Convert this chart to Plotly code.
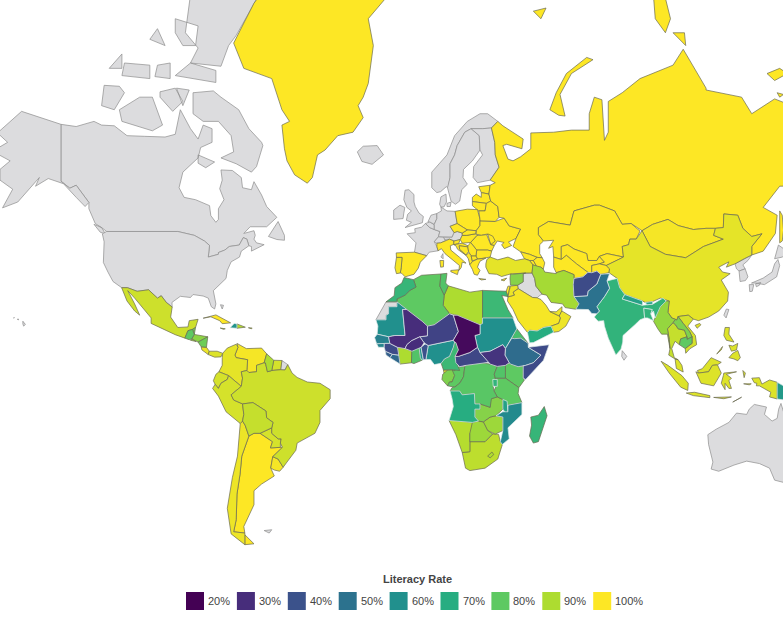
import math
import plotly.graph_objects as go
from plotly.colors import sample_colorscale

# ---------- legend data ----------
LEGEND_TITLE = "Literacy Rate"
LEGEND_LABELS = ["20%", "30%", "40%", "50%", "60%", "70%", "80%", "90%", "100%"]
LEGEND_COLORS = ["#440154", "#472d7b", "#3b528b", "#2c728e", "#21908d", "#27ad81", "#5ec962", "#addc30", "#fde725"]

# ---------- country outlines: rings of lon,lat,lon,lat ... ----------
CANADA = [[-141,69.6,-135,69.3,-128,70,-125,69.5,-120,69.4,-115,68,-108,67.9,-100,67.8,-96,68.2,-94,71.5,-90,69,-87,67.5,-85,69.5,-81.5,69,-81.5,67,-86,66.2,-87,64.5,-93,62,-94.5,59,-92.5,57,-88,56.5,-82.5,55.2,-82,52.9,-80,51.3,-79,52,-79,54.5,-76.8,56.5,-78.5,58.8,-77.5,60.5,-78,62.4,-73.5,62.3,-70,61,-69.5,59,-66,58.6,-65,60.2,-62,57.5,-60,55,-56,52.5,-60,50.2,-66.5,50.2,-69,48.5,-65,49.2,-64.5,48,-65,47,-64,46,-61,45.5,-66,43.7,-66,45,-67,45.2,-67.8,47,-69.2,47.4,-70.8,45.4,-74.7,45,-76.5,44,-79,43.3,-79,42.8,-83,42,-82.5,45.3,-84.5,46.5,-88.5,48,-95,49,-123,49,-125,50,-127.5,51,-130,54.5,-130,55.9,-135,59.5,-137.5,58.9,-141,60.3],
 [-128,50.8,-125,50,-123.5,48.4,-125.5,48.8],[-59.3,47.7,-55.5,51.5,-53,48,-53,46.7,-56,46.9],
 [-61.5,66.5,-64,63,-66,62,-72,63.5,-78,64.5,-73,65.5,-74,68,-79,70,-85,70,-89,71,-89,73.5,-81,73.7,-78,73,-71,71.5,-67,69,-62,67],
 [-117,70,-105,68.7,-101,69.5,-105,73,-110,73,-118,71.5],[-125,72,-120,71.5,-116,73.5,-118,74.2,-124,74.3],[-87,65,-80.5,63.8,-84,62.8,-87,63.6],
 [-90,76.5,-78,76.2,-75,78,-72,78.8,-63,81.5,-62,83,-75,83.2,-90,81.5,-92,79,-87,77.8],[-96,75.3,-80,74.6,-80,75.8,-90,76.5],[-96,80,-87,79.5,-88,78,-93,78,-96,79],
 [-117,75.3,-106,75,-106,76.3,-116,76.5],[-104,75.2,-98,75,-98,76.5,-103,76.3],[-102,73,-97,71.3,-93,72.5,-96,74,-102,73.6],[-95.5,74,-90.5,73.8,-93,72],[-122,76,-117,76,-117,77.3],[-106,78.5,-100,78,-103,79.3]]
USA = [[-123,49,-95,49,-88.5,48,-84.5,46.5,-82.5,45.3,-83,42,-79,42.8,-79,43.3,-76.5,44,-74.7,45,-70.8,45.4,-69.2,47.4,-67.8,47,-67,45.2,-70,43.7,-70.7,42,-74,40.6,-75.5,38,-76,35.5,-78,33.9,-81,31.5,-80,27,-80.5,25.2,-81.8,26,-83,29,-85,29.7,-89,30.2,-90,29.2,-94,29.6,-97.3,27.5,-97.2,25.9,-99.5,27.5,-101.5,29.8,-103,29,-106.5,31.8,-111,31.3,-114.8,32.5,-117.1,32.5,-120.5,34.5,-122.5,37.5,-124.3,40.4,-124,46.3,-124.7,48.4],
 [-141,69.6,-141,60.3,-137.5,58.9,-135,59.5,-130,55.9,-131.5,55,-135,57,-140,59.8,-146,60.8,-151,59.3,-149.5,61,-153,59,-158,56,-164,54.7,-160,58.7,-165,60.5,-165,62.5,-161,64,-168,65.6,-162,67,-166,68.4,-156.5,71.3],
 [-156,20.8,-155,19.6,-155.7,19,-156,19.8],[-159.7,22,-159.3,22.1,-159.4,21.9],[-158.2,21.5,-157.7,21.6,-157.7,21.3]]
GREENLAND = [[-73,78.2,-70,76.5,-69,76,-58,75,-54,71.5,-51,70,-54,69.5,-53,66,-52,64,-49,61.5,-44,59.9,-42,61,-40,65,-37,65.8,-32,68,-26,68.5,-22,70.5,-24,72,-22,73,-20,74.5,-19,76.5,-18,78,-20,80,-12,81.5,-28,83.5,-60,82,-65,81,-68,80]]
ICELAND = [[-24.3,65.5,-22,66.4,-16.5,66.5,-14,65,-18.5,63.4,-22.5,63.9]]
UK = [[-5.5,50,1.3,51.2,1.7,52.7,0,53.5,-1.5,55,-2,56,-2,57.6,-4,58.6,-5.5,58.5,-6,56.5,-4.8,54.8,-3,54,-4.5,53.2,-5,51.8,-3,51.3]]
IRELAND = [[-10,52,-6.3,52.2,-6,53.5,-5.6,54.8,-7.5,55.3,-10,54.2]]
FRANCE = [[2.5,51,4.2,50,6,49.5,8.2,49,7.6,47.6,6,46.3,7,45,7.5,43.8,4,43.4,3,42.4,-1.8,43.4,-1.2,46,-4.7,48.4,-1.5,48.7,-1.7,49.7,1,50.1],[8.6,42,9.4,43,9.5,41.5]]
SPAIN = [[-9,43.2,-1.8,43.4,3,42.4,0.5,40.5,-0.3,38.7,-2,36.8,-5.5,36,-6.8,37.1,-7.4,37.2,-7,39,-6.7,41.9,-8.9,41.9]]
PORTUGAL = [[-8.9,41.9,-6.7,41.9,-7,39,-7.4,37.2,-8.9,37,-9.5,38.8]]
BELGIUM = [[2.5,51,4.2,51.4,6,50.7,6,49.5,4.2,50]]
NETHERLANDS = [[3.5,51.4,4.7,53,7,53.4,7,52.2,6,50.8,4.2,51.4]]
GERMANY = [[7,53.4,8.8,54,8.6,54.9,11,54,14.2,53.9,15,51,12.2,50.3,13.8,48.7,13,47.5,9.6,47.5,7.6,47.6,8.2,49,6,49.5,6,50.7,6,50.8,7,52.2]]
DENMARK = [[8.1,55.5,8.6,57.1,10.6,57.7,10.8,56,9.8,54.9,8.6,54.9],[11,55.7,12.6,56,12.3,55,11,55]]
NORWAY = [[5,62,5,59,7,58,8.5,58.2,10.7,59.2,11.5,59,12.2,61,12.2,63.5,14,65,15,66.5,18,68.5,20.5,69,25,69,28.5,69.1,31,70,27,71,24,71,19,70,14,68,11,65]]
SWEDEN = [[11.2,59,12.6,56.2,14.3,55.5,16,56.2,16.8,58.6,19,59.7,17.3,61,17.5,62.5,21,64,24,65.8,23.7,68,20.5,69,18,68.5,15,66.5,14,65,12.2,63.5,12.2,61]]
FINLAND = [[24,65.8,25,65,21.5,63,21.3,61,23,60,25.5,60.3,28,60.5,31.5,62.9,30,65,29.8,67,28.5,69.1,25,69,20.5,69,23.7,68]]
ESTONIA = [[23.5,59.2,28,59.5,27.5,57.7,24.5,58]]
LATVIA = [[21,57,22.5,57.7,24.5,57,24.5,58,27.5,57.7,28.2,56.2,26.5,55.7,21,56.1]]
LITHUANIA = [[21,56.1,26.5,55.7,26,54,23.5,54,21,55.2]]
POLAND = [[14.2,53.9,19,54.4,23,54.3,24,52,24,50.5,22.5,49.2,19,49.4,15,51]]
BELARUS = [[23.5,54,26,54,26.5,55.7,28.2,56.2,31,55,31.5,52.5,30,51.5,24,51.6,24,52]]
UKRAINE = [[24,51.6,30,51.5,33.5,52.3,35.5,50.4,40,49.6,38.2,47.2,35.2,46.2,36.5,45.3,33.6,44.4,32.5,45.5,33.5,46.1,30.8,46.5,29.7,45.3,28.2,45.5,28,48,26.5,48.3,24.5,48,22.5,48.3,22.5,49.2,24,50.5]]
MOLDOVA = [[27,48.4,29,47.8,30,46.5,28.2,45.5]]
ROMANIA = [[22.8,48,24.5,48,26.6,48.2,28.2,45.5,29.6,45.2,28.6,43.7,27,44,22.7,44,20.3,46.1]]
BULGARIA = [[22.7,44,27,44,28.6,43.7,28,42,26.3,41.8,23,41.4,22.4,42.3]]
HUNGARY = [[16.2,46.9,17,48,18.8,48,22.2,48.4,22.8,48,20.3,46.1,17,45.9]]
SLOVAKIA = [[17,48,17,48.6,19,49.4,22.5,49.2,22.2,48.4,18.8,48]]
CZECHIA = [[12.2,50.3,15,51,17.5,50,19,49.4,17,48.6,15,49,13.8,48.7]]
AUSTRIA = [[9.6,47.5,13,47.5,13.8,48.7,15,49,17,48.6,17,48,16.2,46.9,14,46.5,12,47,10,46.9]]
SWITZERLAND = [[6,46.3,7.6,47.6,9.6,47.5,10.4,46.5,8.5,46,7,45.9]]
ITALY = [[7,45,7,45.9,8.5,46,10.4,46.5,12,47,13.7,46.5,13.7,45.6,12.3,45.2,12.5,44,16,41.9,18.5,40.2,17,40.5,16.6,38.9,15.7,38,15.9,39.5,12.2,41.8,10.2,43,8.8,44.4,7.5,43.8],[12.5,38,15.6,38.2,15.1,36.7,12.5,37.6],[8.2,41,9.7,41,9.6,39.1,8.5,39]]
SLOVENIA = [[13.7,46.5,16.2,46.9,15.6,45.8,13.7,45.5]]
CROATIA = [[13.7,45.5,15.6,45.8,17,45.9,19.3,45.2,19,44.9,15.8,45.2,16,44.2,18.5,42.5,15.2,44.2,14.5,45.2]]
BOSNIA = [[15.8,45.2,19.2,44.9,19.5,43.6,18.5,42.6,16,44.2]]
SERBIA = [[19.3,45.2,20.3,46.1,22.7,44,22.4,42.3,20.5,42.3,19.5,43.6,19.2,44.9]]
ALBANIA = [[18.5,42.5,19.5,43.2,20.5,42.5,21,40.6,20,39.7,19.4,41.5]]
MACEDONIA = [[20.5,42.3,22.4,42.3,23,41.4,21,40.9]]
GREECE = [[21,40.7,23,41.4,26.3,41.7,24,40.8,23.5,40,23,39,24,38,23,36.5,21.7,36.8,21,38.3,20,39.7],[23.5,35.5,26.3,35.2,24.5,35]]
CYPRUS = [[32.3,35,34.5,35.6,33.5,34.7]]
TURKEY = [[26.3,40,26.7,41.3,28,42,31,41.2,35,42,38,41,41.5,41.5,43.5,41,44.8,39.7,44.5,37.2,42,37.2,36.7,36.8,36,36.9,32.5,36.1,30.6,36.8,27.5,37,26.3,39]]
RUSSIA = [[31,70,33,69.4,41,67.5,40.5,66,34.5,66.7,33,66.5,35,64.3,37,64,40,64.7,44,66,44,68.4,53,68.5,60,68.8,67,68.8,67,71,69,73,72,72.7,72.7,69,73,67.3,74.5,68.5,74.5,72.5,80,73.5,87,75,100,76.3,104,77.7,113,74,113,73.8,127,73,131,71,140,72.8,150,71.6,160,69.7,170,70,180,69,180,65,177,62.5,170,60,163,60,163,58,162,55,156.5,51,156,57,163.5,61.6,155,59.5,142,59.3,135.5,54.8,141,53,140.3,48.5,135.5,43.7,131,42.6,131,45,135,48.4,131,47.7,127.5,49.8,125.5,53,120,53.3,119.8,50,116.7,49.8,113,49.8,108,49.5,102,50.5,98,52,92,50.8,87.8,49.2,83.5,51,80,50.8,77,54,71,55.3,69,55.3,61,54,59.5,50.6,51,51.5,47,50,47,48.2,49,46.5,47.5,45.5,47.5,43,48.5,41.8,46.5,41.9,43.5,42.8,40,43.5,37,45,38.2,47.2,40,49.6,35.5,50.4,33.5,52.3,31.5,52.5,31,55,28.2,56.2,27.5,57.7,28,59.5,30,60,28,60.5,31.5,62.9,30,65,29.8,67,28.5,69.1],
 [51.5,71.5,55,70.8,57.5,70.7,55.5,73.3,60,75.5,68.5,76.8,66,77,58,75.5,54,73.5],[93,80,97,79,99,80,97,81.3,92,82],[100,79,105,78,104.5,79],[45,80.5,50,80.7,48,80],[142,54,143,53,143.5,49.3,143,46.5,142,46,142,50],[137,75.5,142,76,145,75.5,140,74.8],[141,73.5,143.5,73.3,142,73]]
KAZAKHSTAN = [[47,50,51,51.5,59.5,50.6,61,54,69,55.3,71,55.3,77,54,80,50.8,83.5,51,87,49.1,85.5,47,83,47,82.5,45.5,80,45,80.5,42,74,43,71,42.2,70,41,66.5,41,66,43,61,44.3,58.5,45.5,56,45,56,41.3,53,42,52.7,45,51,44.5,53,46.7,49,46.5,47,48.2]]
UZBEKISTAN = [[56,45,58.5,45.5,61,44.3,66,43,66.5,41,70,41,71,42.2,73,40.5,71,40,68,39.5,68,37.3,66.5,37.4,62,40,58,42.5,56,41.3]]
TURKMENISTAN = [[53,42,56,41.3,58,42.5,62,40,66.5,37.4,64.5,36,61,35.5,61,36.7,57,38,54,37.3,53,39]]
KYRGYZSTAN = [[71,42.2,74,43,80.5,42,76,40.3,73.7,39.5,71,40,73,40.5]]
TAJIKISTAN = [[68,39.5,71,40,73.7,39.5,75,38.5,74.8,37.3,71.5,36.8,70,37.8,68,37.3]]
MONGOLIA = [[87.8,49.2,92,50.8,98,52,102,50.5,108,49.5,113,49.8,116.7,49.8,116,48,119.8,47,112,45,105,41.8,97,42.8,91,45]]
CHINA = [[73.7,39.5,76,40.3,80.5,42,80,45,82.5,45.5,83,47,85.5,47,87.8,49.2,91,45,97,42.8,105,41.8,112,45,119.8,47,116,48,116.7,49.8,119.8,50,120,53.3,125.5,53,127.5,49.8,131,47.7,135,48.4,131,45,131,42.6,128,41.5,124.4,40,121,39,122,40.6,118,39,119.5,37.5,122.5,37,119,35,121.8,31,121.5,28,118,24.5,114,22.3,110,21,108,21.6,106,23,102,22.5,101.5,21.2,99.5,22,98,24,98.5,28,95,29,92,27.8,89,27.5,88,28,81,30.2,79,32.5,78,35.5,75,37,74.8,37.3,75,38.5],[108.7,19.3,110.5,20,111,19.5,109.5,18.2]]
TAIWAN = [[120,23,121,25.2,122,25,120.9,22]]
NORTH_KOREA = [[124.4,40,128,41.5,131,42.6,129.5,41,127.5,39.7,128.4,38.5,126,37.8,125,38.5]]
SOUTH_KOREA = [[126,37.8,128.4,38.5,129.5,36,128.5,34.8,126.4,34.5]]
JAPAN = [[130.9,34,135.5,35.6,139,37.5,140,40,141.3,41.3,142,39.5,140.8,36,139,35,136,33.5,132.5,34],[140,41.5,141.5,45.4,145.3,43.5,143,42],[130,33.5,131.8,33.5,131.2,31.3,130.2,31.2],[132.5,33.8,134.5,34.2,134,33.3,132.8,32.8]]
INDIA = [[74,34.7,78,35.5,79,32.5,81,30.2,80,28.7,88,26.5,89.8,26.7,92,26.9,96,29,97.3,28,95,26,94,24,93,22,92.3,24.5,91.2,23.5,91.8,25,88.5,25.5,88.8,22,87,21.3,85,19.5,80.3,15.5,80.2,13,79.5,10.3,77.5,8,76,11,74.5,14.5,73,19,72.7,21,70.5,20.8,69,22.3,70,23.5,71,24.5,70,26,73,29.5,75,32.3]]
PAKISTAN = [[74,34.7,75,32.3,73,29.5,70,26,71,24.5,70,23.5,68,23.6,66.7,25,61.7,25.1,63,27,61,29.5,66.3,29.8,66.5,31.3,70,33.7,71.5,36.8,75,37]]
AFGHANISTAN = [[61,35.5,64.5,36,66.5,37.4,68,37.3,70,37.8,71.5,36.8,70,33.7,66.5,31.3,66.3,29.8,61,29.5,60.7,33.5]]
NEPAL = [[80,28.7,81,30.2,88,28,88,26.5]]
BHUTAN = [[89,27.5,92,27.8,92,26.9,89.8,26.7]]
BANGLADESH = [[88.5,25.5,91.8,25,91.2,23.5,92.3,21,90,22,88.8,22]]
SRI_LANKA = [[80,9.7,81.8,7.5,80.7,6,79.8,7.5]]
IRAN = [[44.8,39.7,48,39,48.9,38.4,49.5,37.5,54,37,54,37.3,57,38,61,36.7,61,35.5,60.7,33.5,61,29.5,63,27,61.7,25.1,57.5,25.7,56.5,27,52,27.5,50.2,30,48.5,30.3,46,33,45.5,35.5,44.5,37.2]]
IRAQ = [[44.5,37.2,45.5,35.5,46,33,48.5,30.3,47.7,30,46.5,29.1,44.7,29.2,39,32.2,38.8,33.3,41,34.4,41,37]]
SYRIA = [[36,36.9,36.7,36.8,42,37.2,41,37,41,34.4,38.8,33.3,36,33.3,35.8,35.5]]
JORDAN = [[36,33,38.8,33.3,39,32.2,37,31,37.5,30,35,29.4,35.5,31.5]]
ISRAEL = [[34.3,31.3,35,33,35.8,33,35.5,31.5,35,29.5]]
SAUDI_ARABIA = [[35,29.4,37.5,30,37,31,39,32.2,44.7,29.2,46.5,29.1,48,28.5,50,26.5,51.5,24.3,55.2,22.7,55.7,22,55,20,52,19,49,18.5,46.5,17.2,43.5,17.5,42.7,16.6,39,21,37,25,34.8,28]]
UAE = [[51.5,24.3,54,24.2,56.3,26,56.2,24.5,55.2,22.7]]
OMAN = [[55.2,22.7,56.2,24.5,56.8,24.2,59.8,22.5,57.8,19,55,17,53,16.7,52,19,55,20,55.7,22]]
YEMEN = [[42.7,16.6,43.5,17.5,46.5,17.2,49,18.5,52,19,53,16.7,45,12.8,43.5,12.7]]
GEORGIA = [[40,43.5,43.5,42.8,46.5,41.9,45,41,43.5,41,41.5,41.5]]
ARMENIA = [[43.5,41,45,41,46.5,39,44.8,39.7]]
AZERBAIJAN = [[45,41,46.5,41.9,48.5,41.8,49.5,40.3,48.9,38.4,48,39,46.5,39]]
MYANMAR = [[92.3,20.8,93,22,94,24,95,26,97.3,28,98.5,28,98,24,99.5,22,101,21.5,100,20.3,97.8,18,98.5,14,98.8,10.5,97.8,16,95.5,16,94,18]]
THAILAND = [[100,20.3,101,19.5,102,18,104.5,17.5,105.5,15,103,14.2,102.5,12,100.8,13.3,99.5,10.5,100.5,7,102,6.2,100.8,6.5,98.3,8,98.8,10.5,98.5,14,97.8,18]]
LAOS = [[101.5,21.2,102,22.5,104,20,106.5,17,107.5,15,105.5,14,105.5,15,104.5,17.5,102,18,101,19.5,100,20.3,101,21.5]]
VIETNAM = [[102,22.5,106,23,108,21.6,105.8,19,108.8,15.5,109.3,12,106.7,10.5,105,8.7,104.8,10.5,106,11.5,107.5,12.5,107.5,15,106.5,17,104,20]]
CAMBODIA = [[102.5,12,103,14.2,105.5,15,105.5,14,107.5,15,107.5,12.5,106,11.5,104.8,10.5]]
MALAYSIA = [[100.8,6.5,102,6.2,103.5,4,104,1.4,101.3,2.8],[109.6,2,111.5,2.7,115,7,119,5.2,117.5,4.2,115.5,4,114,1.5,110,1]]
INDONESIA = [[109,1.5,110,1,114,1.5,115.5,4,117.5,4.2,119,1,116,-4,111,-3],[95.3,5.6,98,4,103.5,0,106,-3,105.8,-5.8,103,-4.5,98.5,1],[105.2,-6.8,108.5,-6.5,114.5,-7.8,114.5,-8.6,108,-7.8],[120,1,125,1.5,121,0.5,123,-1,122,-2,123,-5,122,-5,120.5,-3,120.5,-5.5,119.5,-4,119,-3,119.8,0],[116,-8.5,123,-8.3,120,-9],[123.5,-10.3,127,-8.4,125,-9.8],[127.5,2,128.5,1,128,-0.8],[131,-1,134,-0.8,135,-3.3,138,-1.7,141,-2.6,141,-9.1,138,-8.3,138.5,-6.5,134,-4,132.8,-4,133,-3,132,-2.8],[127.8,-3.2,130.8,-3.2,130,-3.6,128,-3.5]]
PAPUA_NEW_GUINEA = [[141,-2.6,147,-6,147,-10,141,-9.1]]
PHILIPPINES = [[120.5,18.5,122.2,18.5,122,16,124,13,121,13.7,120,15.5],[122,7,123.5,8.7,125.5,9.8,126.5,7,125.5,5.8,124,6.5],[122,11.8,123.5,11.5,125.5,12.5,125,10,123,9.5],[117.2,8.4,119.5,11.3,119,10]]
AUSTRALIA = [[113.7,-22.5,114,-26,115.7,-32,115,-34.3,118,-35,124,-33,129,-31.7,134,-32.5,138,-34,140,-37.8,146,-39,150,-37.5,153,-31,153.5,-27,149,-21,146,-19,145.3,-15,143.5,-14,142.5,-10.8,141.6,-13,141,-16.5,139,-17.5,136,-15,136.8,-12.2,132,-11.2,130,-13,129,-15,125,-14.5,122,-18,117,-20.5]]
MOROCCO = [[-5.9,35.8,-2.2,35.1,-1.2,32.7,-3.6,31.6,-5.5,30,-8.7,28.7,-8.7,27.7,-13,27.7,-9.8,29.8,-9.5,32.5,-6.8,34]]
WESTERN_SAHARA = [[-8.7,27.7,-13,27.7,-17,21.3,-13,21.3,-13,23,-12,23.5,-12,26,-8.7,26]]
ALGERIA = [[-2.2,35.1,1,36.5,8.6,36.9,8.2,33,9.9,30,9.5,26.5,12,23.5,6,19.5,3.3,19,1.2,20.8,-4.8,25,-8.7,27.7,-8.7,28.7,-5.5,30,-3.6,31.6,-1.2,32.7]]
TUNISIA = [[8.6,36.9,11,37.1,10.5,34,11.5,33.1,9.9,30,8.2,33]]
LIBYA = [[11.5,33.1,15,32.3,20,31,25,31.6,25,20,24,19.5,15,23,12,23.5,9.5,26.5,9.9,30]]
EGYPT = [[25,31.6,32,31.2,34.3,31.3,35,29.5,32.6,29.9,35,25,37,22,25,22]]
SUDAN = [[25,22,37,22,38.5,18,36.5,14.5,34,10.5,33,12,28,9.5,24,9,23,11,22.5,13,22,15.5,24,16,24,19.5,25,20]]
SOUTH_SUDAN = [[24,9,28,9.5,33,12,34,10.5,33.8,8,35.5,5,34,4,30.8,3.6,28,4.5,24.5,8.5]]
ERITREA = [[36.5,14.5,38.5,18,43,12.5,40,14.5,37.5,14.3]]
ETHIOPIA = [[36.5,14.5,37.5,14.3,40,14.5,43,12.5,43,11,48,8,45,5,42,4,39,3.5,36,4.5,35.5,5,33.8,8,34,10.5]]
SOMALIA = [[43,11,51.2,12,49,6,42,-1.5,41,-1,41,3.8,42,4,45,5,48,8]]
KENYA = [[34,4,35.5,5,36,4.5,39,3.5,41,3.8,41,-1,41.5,-1.7,39.3,-4.7,34,-1,34,1.2]]
UGANDA = [[30.8,3.6,34,4,34,1.2,34,-1,30,-1,29.6,0.6]]
TANZANIA = [[30,-1,34,-1,39.3,-4.7,39,-7,40.5,-10.5,35,-11.5,33,-9.3,30.8,-8.3,29.5,-6,30.8,-3]]
RWANDA_BURUNDI = [[29,-1.5,30.8,-1.5,30.8,-4.2,29.2,-4.2]]
DR_CONGO = [[12.2,-6,13,-4.7,14,-4.5,16,-3,17.5,-0.5,18,3.5,18.5,4,22,4.5,24.5,5,28,4.5,30.8,3.6,29.6,0.6,30,-1,29.2,-4.2,29.5,-6,30.8,-8.3,28.5,-9,28,-12.3,24,-11,22,-11,21.8,-7,17,-7.5,16,-6]]
CONGO = [[11.2,-4,14,-4.5,16,-3,17.5,-0.5,18,3.5,16,3.5,14,2,13,2.3,14,0,13,-2.5,12,-2.5]]
GABON = [[9.3,0.5,9.8,1,11.3,2.2,13,2.3,14,2,14,0,13,-2.5,12,-2.5,11.2,-4,9,-1.5]]
EQ_GUINEA = [[9.6,2.2,11.3,2.2,11.3,1,9.8,1]]
CAMEROON = [[9.6,2.2,11.3,2.2,13,2.3,16,2,15,4.5,14.2,7.5,15.5,10,14.5,12.8,14,13,13.5,11,12,7.5,10,6.5,8.7,4.8]]
CAR = [[14.5,5,15,4.5,16,3.5,18.5,4,22,4.5,24.5,5,27.5,5.2,24.5,8.5,24,9,23,11,20,9,15.5,7.5,14.2,7.5]]
CHAD = [[14,13,14.5,12.8,15.5,10,14.2,7.5,15.5,7.5,20,9,23,11,22.5,13,22,15.5,24,16,24,19.5,15,23,13.5,23,15.5,17,13.5,13.7]]
NIGER = [[3.3,19,6,19.5,12,23.5,13.5,23,15.5,17,13.5,13.7,9,12.8,3.6,11.7,2,12.7,0.3,15,3.3,15.4]]
MALI = [[-12,15,-11.5,12.5,-8.5,11,-5.5,10.5,-4.8,12,-3,13.5,0.3,15,3.3,15.4,3.3,19,1.2,20.8,-4.8,25,-6.5,25,-5.5,15.5,-9.5,15.5]]
MAURITANIA = [[-17,21.3,-13,21.3,-13,23,-12,23.5,-12,26,-8.7,26,-8.7,27.7,-4.8,25,-6.5,25,-5.5,15.5,-9.5,15.5,-12,15,-16.5,16,-16.2,19]]
SENEGAL = [[-17.5,14.7,-16.5,16,-12,15,-11.5,12.5,-16.7,12.4]]
GUINEA_BISSAU = [[-16.7,12.4,-13.7,12.5,-13.7,11,-16,11]]
GUINEA = [[-13.7,12.5,-11.5,12.5,-8.5,11,-8,8,-10.5,8.3,-13.3,9.5,-13.7,11]]
SIERRA_LEONE = [[-13.3,9.5,-10.5,8.3,-11.5,7,-13,8]]
LIBERIA = [[-11.5,7,-10.5,8.3,-8,8,-7.5,4.5]]
IVORY_COAST = [[-8,8,-8.5,11,-5.5,10.5,-2.8,9.5,-3,5,-7.5,4.5]]
BURKINA_FASO = [[-5.5,10.5,-2.8,9.5,0.8,11,2,12.7,0.3,15,-3,13.5,-4.8,12]]
GHANA = [[-3,5,-2.8,9.5,-2.8,11,0,11,0.5,7,1.2,6,-2,4.7]]
TOGO = [[0,11,0.8,11,1.7,6.2,1.2,6,0.5,7]]
BENIN = [[0.8,11,2.4,12.3,3.6,11.7,2.7,6.3,1.7,6.2]]
NIGERIA = [[2.7,6.3,3.6,11.7,9,12.8,13.5,13.7,14,13,13.5,11,12,7.5,10,6.5,8.7,4.8,6,4.3,4.5,6.3]]
ANGOLA = [[12.2,-6,16,-6,17,-7.5,21.8,-7,22,-11,24,-11,24,-13,22,-13,22,-16,23.4,-17.5,21,-18,13.5,-17.3,11.8,-17.3,13.5,-12,13,-9]]
ZAMBIA = [[22,-13,24,-13,24,-11,28,-12.3,28,-9,30.8,-8.3,33,-9.3,33,-13,30.3,-15.5,28,-16,25.3,-17.8,23.4,-17.5,22,-16]]
MALAWI = [[33,-9.3,34.7,-10,35,-14,35.7,-16,34.5,-15,33,-13]]
MOZAMBIQUE = [[35,-11.5,40.5,-10.5,40.5,-15,35,-20,35.5,-24,32.8,-26,32,-25,33,-21,33,-16,30.3,-15.5,33,-14,35,-14]]
ZIMBABWE = [[25.3,-17.8,28,-16,30.3,-15.5,33,-16,33,-21,30,-22.3,27,-21]]
BOTSWANA = [[20,-22,21,-18,23.4,-17.5,25.3,-17.8,27,-21,29,-22.2,26,-25,23,-25,20,-25]]
NAMIBIA = [[11.8,-17.3,13.5,-17.3,21,-18,25,-17.8,23.4,-18,21,-18.3,21,-22,20,-22,20,-28.5,17,-28.8,14.5,-22.5]]
SOUTH_AFRICA = [[17,-28.8,20,-28.5,20,-25,23,-25,26,-25,29,-22.2,31.3,-22.4,32,-25,32.8,-26,31,-31,26,-34,20,-34.8,18.3,-34]]
LESOTHO = [[27,-30,28.7,-28.6,29.4,-29.5,28,-30.6]]
MADAGASCAR = [[44,-16,47,-15.3,49.3,-12,50.4,-15.5,47,-25,45,-25.5,43.5,-23,44.3,-19]]
MEXICO = [[-117.1,32.5,-114.8,32.5,-111,31.3,-106.5,31.8,-103,29,-101.5,29.8,-99.5,27.5,-97.2,25.9,-97.8,22.3,-95,18.5,-91,18.7,-90.5,21,-87,21.5,-88,18.5,-89.2,17.8,-91,17.3,-92.2,14.5,-96,15.8,-105.5,20,-105.5,22,-112,29,-114.7,31.5,-112,27,-110,23,-112,24.5,-115,28]]
GUATEMALA = [[-92.2,14.5,-91,17.3,-89.2,17.8,-88.5,15.9,-89.5,14.2,-90.5,13.9]]
BELIZE = [[-89.2,17.8,-88,18.5,-88.5,15.9]]
HONDURAS = [[-88.5,15.9,-83.2,15,-87,13,-89.5,14.2]]
EL_SALVADOR = [[-90,13.7,-87.8,13.2,-89.3,14.3]]
NICARAGUA = [[-87,13,-83.2,15,-83.7,11,-85.8,11.2]]
COSTA_RICA = [[-85.8,11.2,-83.7,11,-82.6,9.5,-83,8.2,-85.5,10]]
PANAMA = [[-83,8.2,-82.6,9.5,-79.5,9.5,-77.3,8.7,-78,7.3,-80.5,7.2]]
CUBA = [[-85,21.9,-80,23.1,-74.2,20.2,-77.5,19.9,-78.5,21,-82,22.4]]
HAITI = [[-74.4,18.4,-72.8,20,-71.7,19.8,-71.7,18.2]]
DOMINICAN_REP = [[-71.7,19.8,-68.4,18.6,-71.7,18.2]]
JAMAICA = [[-78.3,18.3,-76.3,18,-77,17.8]]
PUERTO_RICO = [[-67.2,18.4,-65.7,18.3,-66,18]]
BAHAMAS = [[-78.2,26.7,-77,26.5,-77.5,25.2]]
COLOMBIA = [[-77.3,8.7,-75.5,10.7,-72,12.2,-71.3,11,-72.5,8,-72,7,-67.5,6.2,-67.8,2,-70,1.5,-69.5,-1,-70,-4.2,-72,-2.5,-75,0,-78.8,1.5,-77.5,4,-77.5,7]]
VENEZUELA = [[-71.3,11,-71.7,12.5,-68,10.5,-62,10.7,-60,8.5,-61,5,-64,4,-64,1.5,-67,1.2,-67.8,2,-67.5,6.2,-72,7,-72.5,8]]
GUYANA = [[-60,8.5,-57.2,6,-58,2,-59.7,1.5,-60.5,5,-61,5]]
SURINAME = [[-57.2,6,-54,5.9,-54.5,2.3,-58,2]]
FRENCH_GUIANA = [[-54,5.9,-51.7,4.3,-52.8,2.2,-54.5,2.3]]
BRAZIL = [[-51.7,4.3,-50,1,-48,-0.7,-44,-2.5,-39,-3,-35,-5.5,-35,-9,-39,-13.5,-39,-18,-41,-22,-48,-25.5,-48.5,-28,-52,-32,-53.5,-33.7,-55.5,-31,-57.6,-30.2,-53.8,-27,-54.6,-25.5,-54.3,-24,-55.5,-24,-58,-22,-58,-20,-57.5,-18,-60,-16.3,-60.3,-13.7,-65.4,-10.5,-69.5,-11,-73,-9.5,-74,-7.5,-70,-4.2,-69.5,-1,-70,1.5,-67.8,2,-67,1.2,-64,1.5,-64,4,-61,5,-60.5,5,-59.7,1.5,-58,2,-54.5,2.3,-52.8,2.2]]
ECUADOR = [[-78.8,1.5,-75,0,-75.5,-1.5,-78,-3,-79,-5,-80.3,-3.4,-81,-2,-80,0.5]]
PERU = [[-75,0,-72,-2.5,-70,-4.2,-74,-7.5,-73,-9.5,-69.5,-11,-69,-15,-69.5,-17.5,-70.4,-18.4,-76,-14,-79,-8,-81.3,-5,-80.3,-3.4,-79,-5,-78,-3,-75.5,-1.5]]
BOLIVIA = [[-69.5,-11,-65.4,-10.5,-60.3,-13.7,-60,-16.3,-57.5,-18,-58,-20,-62.6,-22,-65,-22,-67,-23,-68.5,-19,-69.5,-17.5,-69,-15]]
PARAGUAY = [[-58,-20,-58,-22,-55.5,-24,-54.3,-24,-54.6,-25.5,-54.6,-27,-58.5,-27.2,-57.7,-25,-62.6,-22]]
URUGUAY = [[-58.4,-34,-57.6,-30.2,-55.5,-31,-53.5,-33.7,-54.9,-35,-57,-34.6]]
CHILE = [[-70.4,-18.4,-69.5,-17.5,-68.5,-19,-67,-23,-69.8,-30,-70.5,-36,-71.7,-42,-72,-49,-73,-52,-68.6,-52.3,-68.6,-55,-74,-52.5,-75.5,-46,-73.5,-37,-71.5,-30,-70.3,-20]]
ARGENTINA = [[-65,-22,-62.6,-22,-57.7,-25,-58.5,-27.2,-54.6,-27,-53.8,-27,-57.6,-30.2,-58.4,-34,-57,-36.5,-62,-39,-65,-41,-65,-45,-69,-50.7,-68.6,-52.3,-73,-52,-72,-49,-71.7,-42,-70.5,-36,-69.8,-30,-67,-23],[-68.6,-52.7,-65,-54.8,-68.6,-55]]
FALKLANDS = [[-61,-51.7,-58,-51.5,-59,-52.3]]

# ---------- countries and their literacy rate (%); None = no data ----------
COUNTRY_NAMES = ["Canada","United States","Greenland","Iceland","United Kingdom","Ireland","France","Spain","Portugal","Belgium","Netherlands","Germany","Denmark","Norway","Sweden","Finland","Estonia","Latvia","Lithuania","Poland","Belarus","Ukraine","Moldova","Romania","Bulgaria","Hungary","Slovakia","Czechia","Austria","Switzerland","Italy","Slovenia","Croatia","Bosnia","Serbia","Albania","Macedonia","Greece","Cyprus","Turkey","Russia","Kazakhstan","Uzbekistan","Turkmenistan","Kyrgyzstan","Tajikistan","Mongolia","China","Taiwan","North Korea","South Korea","Japan","India","Pakistan","Afghanistan","Nepal","Bhutan","Bangladesh","Sri Lanka","Iran","Iraq","Syria","Jordan","Israel","Saudi Arabia","UAE","Oman","Yemen","Georgia","Armenia","Azerbaijan","Myanmar","Thailand","Laos","Vietnam","Cambodia","Malaysia","Indonesia","Papua New Guinea","Philippines","Australia","Morocco","Western Sahara","Algeria","Tunisia","Libya","Egypt","Sudan","South Sudan","Eritrea","Ethiopia","Somalia","Kenya","Uganda","Tanzania","Rwanda/Burundi","DR Congo","Congo","Gabon","Equatorial Guinea","Cameroon","Central African Rep.","Chad","Niger","Mali","Mauritania","Senegal","Guinea-Bissau","Guinea","Sierra Leone","Liberia","Ivory Coast","Burkina Faso","Ghana","Togo","Benin","Nigeria","Angola","Zambia","Malawi","Mozambique","Zimbabwe","Botswana","Namibia","South Africa","Lesotho","Madagascar","Mexico","Guatemala","Belize","Honduras","El Salvador","Nicaragua","Costa Rica","Panama","Cuba","Haiti","Dominican Rep.","Jamaica","Puerto Rico","Bahamas","Colombia","Venezuela","Guyana","Suriname","French Guiana","Brazil","Ecuador","Peru","Bolivia","Paraguay","Uruguay","Chile","Argentina","Falklands"]
OUTLINES = [CANADA,USA,GREENLAND,ICELAND,UK,IRELAND,FRANCE,SPAIN,PORTUGAL,BELGIUM,NETHERLANDS,GERMANY,DENMARK,NORWAY,SWEDEN,FINLAND,ESTONIA,LATVIA,LITHUANIA,POLAND,BELARUS,UKRAINE,MOLDOVA,ROMANIA,BULGARIA,HUNGARY,SLOVAKIA,CZECHIA,AUSTRIA,SWITZERLAND,ITALY,SLOVENIA,CROATIA,BOSNIA,SERBIA,ALBANIA,MACEDONIA,GREECE,CYPRUS,TURKEY,RUSSIA,KAZAKHSTAN,UZBEKISTAN,TURKMENISTAN,KYRGYZSTAN,TAJIKISTAN,MONGOLIA,CHINA,TAIWAN,NORTH_KOREA,SOUTH_KOREA,JAPAN,INDIA,PAKISTAN,AFGHANISTAN,NEPAL,BHUTAN,BANGLADESH,SRI_LANKA,IRAN,IRAQ,SYRIA,JORDAN,ISRAEL,SAUDI_ARABIA,UAE,OMAN,YEMEN,GEORGIA,ARMENIA,AZERBAIJAN,MYANMAR,THAILAND,LAOS,VIETNAM,CAMBODIA,MALAYSIA,INDONESIA,PAPUA_NEW_GUINEA,PHILIPPINES,AUSTRALIA,MOROCCO,WESTERN_SAHARA,ALGERIA,TUNISIA,LIBYA,EGYPT,SUDAN,SOUTH_SUDAN,ERITREA,ETHIOPIA,SOMALIA,KENYA,UGANDA,TANZANIA,RWANDA_BURUNDI,DR_CONGO,CONGO,GABON,EQ_GUINEA,CAMEROON,CAR,CHAD,NIGER,MALI,MAURITANIA,SENEGAL,GUINEA_BISSAU,GUINEA,SIERRA_LEONE,LIBERIA,IVORY_COAST,BURKINA_FASO,GHANA,TOGO,BENIN,NIGERIA,ANGOLA,ZAMBIA,MALAWI,MOZAMBIQUE,ZIMBABWE,BOTSWANA,NAMIBIA,SOUTH_AFRICA,LESOTHO,MADAGASCAR,MEXICO,GUATEMALA,BELIZE,HONDURAS,EL_SALVADOR,NICARAGUA,COSTA_RICA,PANAMA,CUBA,HAITI,DOMINICAN_REP,JAMAICA,PUERTO_RICO,BAHAMAS,COLOMBIA,VENEZUELA,GUYANA,SURINAME,FRENCH_GUIANA,BRAZIL,ECUADOR,PERU,BOLIVIA,PARAGUAY,URUGUAY,CHILE,ARGENTINA,FALKLANDS]
LITERACY = [None,None,100,None,None,None,None,100,99,None,None,None,None,None,None,None,100,100,100,100,100,100,100,100,100,100,100,100,None,None,100,100,100,100,100,100,100,100,100,97,100,100,100,100,100,100,99,97,None,None,None,None,72,50,38,66,66,72,None,89,None,85,98,100,99,98,98,70,100,100,100,87,93,84,95,80,96,96,63,96,None,73,None,80,78,90,74,60,32,76,48,38,80,78,80,72,79,80,84,97,74,37,22,36,30,60,55,56,38,44,47,90,30,78,62,40,60,70,85,66,58,88,88,91,92,90,73,94,80,82,86,88,82,98,96,100,61,91,88,93,None,97,99,90,95,None,94,95,95,93,95,99,98,100,None]

COLORSCALE = [[i / 8, c] for i, c in enumerate(LEGEND_COLORS)]
NO_DATA = "#dcdcde"

def merc(lat):
    return math.log(math.tan(math.pi / 4 + math.radians(lat) / 2))

def ring_xy(rings):
    xs, ys = [], []
    for ring in rings:
        lons, lats = ring[0::2], ring[1::2]
        xs += lons + [lons[0], None]
        ys += [merc(v) for v in lats] + [merc(lats[0]), None]
    return xs, ys

rows = sorted(zip(COUNTRY_NAMES, OUTLINES, LITERACY), key=lambda r: (-1 if r[2] is None else 100 - r[2]))

fig = go.Figure()
for name, rings, value in rows:
    xs, ys = ring_xy(rings)
    if value is None:
        fill, edge = NO_DATA, "#8d8d8d"
    else:
        fill = sample_colorscale(COLORSCALE, (value - 20) / 80)[0]
        edge = "#dfe9ea" if value <= 72 else "#6a6a52"
    fig.add_trace(go.Scatter(x=xs, y=ys, mode="lines", fill="toself", fillcolor=fill,
                             line=dict(color=edge, width=0.7), name=name, showlegend=False,
                             hoveron="fills", hoverinfo="text",
                             text=f"{name}: {value}%" if value is not None else f"{name}: no data"))

shapes, annotations = [], []
W, H = 783, 633
annotations.append(dict(x=417.5 / W, y=1 - 579 / H, xref="paper", yref="paper", text=f"<b>{LEGEND_TITLE}</b>",
                        showarrow=False, xanchor="center", yanchor="middle",
                        font=dict(family="Liberation Sans", size=11, color="#444444")))
for i, (lab, col) in enumerate(zip(LEGEND_LABELS, LEGEND_COLORS)):
    x0 = 186 + i * 50.9
    shapes.append(dict(type="rect", xref="paper", yref="paper", x0=x0 / W, x1=(x0 + 18) / W,
                       y0=1 - 610 / H, y1=1 - 592 / H, fillcolor=col, line_width=0))
    annotations.append(dict(x=(x0 + 20) / W, y=1 - 601 / H, xref="paper", yref="paper", text=lab,
                            showarrow=False, xanchor="left", yanchor="middle",
                            font=dict(family="Liberation Sans", size=11, color="#444444")))

fig.update_layout(width=W, height=H, autosize=False, margin=dict(l=0, r=0, t=0, b=0),
                  paper_bgcolor="white", plot_bgcolor="white", showlegend=False,
                  xaxis=dict(range=[-165, 143.3], visible=False, fixedrange=True),
                  yaxis=dict(range=[-1.757, 2.564], visible=False, fixedrange=True),
                  shapes=shapes, annotations=annotations)
fig.write_html("out.html", config={"displayModeBar": False},
               post_script="document.body.style.margin='0';document.documentElement.style.overflow='hidden';")
